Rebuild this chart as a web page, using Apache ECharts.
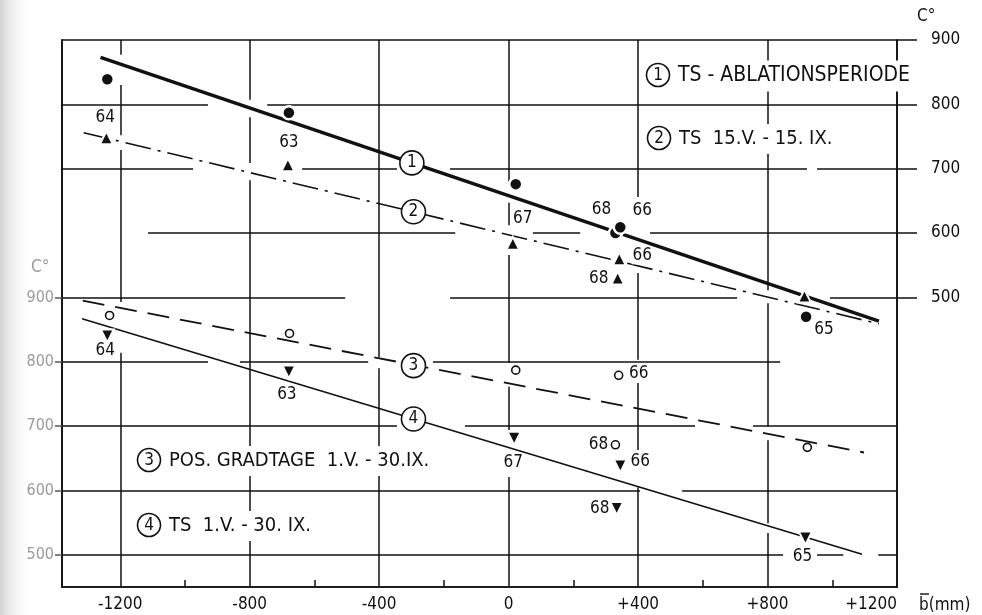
<!DOCTYPE html>
<html><head><meta charset="utf-8">
<script src="https://cdn.jsdelivr.net/npm/echarts@6/dist/echarts.min.js"></script>
<style>
html,body{margin:0;padding:0;}
body{background:linear-gradient(to right,#d4d4d4 0px,#e8e8e8 8px,#f6f6f6 18px,#fff 26px);}
#c{width:982px;height:615px;}
</style></head><body><div id="c"></div>
<script>
// ---- axis ticks ----
const xTicks = [-1200, -800, -400, 0, 400, 800, 1200];
const xMinorTicks = [-1000, -600, -200, 200, 600, 1000];
const yRightTicks = [500, 600, 700, 800, 900];
const yLeftTicks = [500, 600, 700, 800, 900];

// ---- data (x = b̄ in mm, y = C°) ----
const years = ['64', '63', '67', '68', '66', '65'];
// (1) TS - Ablationsperiode (right axis)
const s1X = [-1240, -679, 22, 330, 345, 919];
const s1Y = [839, 787, 676, 600, 609, 470];
// (2) TS 15.V. - 15.IX. (right axis)
const s2X = [-1243, -682, 13, 337, 342, 914];
const s2Y = [748, 706, 584, 530, 560, 502];
// (3) Pos. Gradtage 1.V. - 30.IX. (left axis)
const s3X = [-1233, -677, 22, 330, 340, 923];
const s3Y = [872, 844, 787, 671, 779, 667];
// (4) TS 1.V. - 30.IX. (left axis)
const s4X = [-1240, -679, 17, 334, 345, 917];
const s4Y = [840, 784, 681, 572, 638, 526];

// regression lines (start / end)
const line1 = [[-1261, 873], [1144, 463]];
const line2 = [[-1313, 756], [1144, 459]];
const line3 = [[-1316, 895], [1098, 659]];
const line4 = [[-1318, 867], [1092, 501]];
// circled number positions on lines
const mark1 = [-299, 709];
const mark2 = [-294, 633];
const mark3 = [-294, 794];
const mark4 = [-294, 711];

// drawn grid lines (in right-axis units): [y, xFrom, xTo] and [x, yFrom, yTo]
const hGrid = [
  [800, -1380, -929], [800, -746, 1200],
  [700, -1380, -975], [700, -638, -345], [700, -181, 922], [700, 953, 1200],
  [600, -1114, -165], [600, 75, 221], [600, 437, 1200],
  [500, -1380, -505], [500, -181, 706], [500, 993, 1200],
  [400, -1380, -929], [400, -830, -434], [400, -234, 839],
  [300, -1380, -345], [300, -135, 576], [300, 755, 1200],
  [200, -1380, 406], [200, 536, 1200],
  [100, -1380, 848], [100, 953, 1034], [100, 1142, 1200]
];
const vGrid = [
  [-1200, 877, 900], [-1200, 752, 830], [-1200, 493, 729], [-1200, 50, 414],
  [-800, 807, 900], [-800, 709, 780], [-800, 50, 682],
  [-400, 407, 900], [-400, 50, 390],
  [0, 680, 900], [0, 612, 647], [0, 398, 566], [0, 294, 361], [0, 50, 221],
  [400, 656, 900], [400, 403, 538], [400, 263, 367], [400, 50, 205],
  [800, 511, 900], [800, 299, 491], [800, 149, 278], [800, 50, 134]
];

const legendTexts = ['TS - ABLATIONSPERIODE', 'TS  15.V. - 15. IX.', 'POS. GRADTAGE  1.V. - 30.IX.', 'TS  1.V. - 30. IX.'];

// ---- styling ----
const FONT = "'DejaVu Sans Condensed','DejaVu Sans',sans-serif";
const INK = '#111';
const labelOffsets = {
  s1: [[-2, 38], [0, 30], [7, 34], [-14, -23], [22, -17], [18, 13]],
  s2: [null, null, null, [-19, 0], [23, -3], null],
  s3: [null, null, null, [-17, 0], [20, -2], null],
  s4: [[-2, 15], [-2, 23], [-1, 24], [-17, 0], [20, -4], [-3, 18]]
};

function pts(xs, ys, offs) {
  return xs.map((x, i) => {
    const o = offs[i];
    return {
      value: [x, ys[i]], name: years[i],
      label: o ? {show: true, position: 'inside', offset: o, formatter: '{b}',
        color: INK, fontSize: 17, fontFamily: FONT, backgroundColor: '#fff', padding: [0, 1]} : {show: false}
    };
  });
}

function markPt(coord, txt) {
  return {
    symbol: 'circle', symbolSize: 24, silent: true,
    itemStyle: {color: '#fff', borderColor: INK, borderWidth: 1.6, opacity: 1},
    label: {show: true, position: 'inside', formatter: txt, color: INK, fontSize: 17, fontFamily: FONT},
    data: [{coord: coord}]
  };
}

function legendItem(cx, cy, num, text, fs) {
  return [
    {type: 'text', x: cx + 17, y: cy + 1, z: 100, style: {text: text, align: 'left', verticalAlign: 'middle',
      fontSize: fs, fontFamily: FONT, fill: INK, backgroundColor: '#fff', padding: [5, 3, 5, 3]}},
    {type: 'circle', shape: {cx: cx, cy: cy, r: 11.5}, z: 101, style: {fill: '#fff', stroke: INK, lineWidth: 1.6}},
    {type: 'text', x: cx, y: cy + 1, z: 102, style: {text: num, align: 'center', verticalAlign: 'middle', fontSize: 17, fontFamily: FONT, fill: INK}}
  ];
}

const gridMarkData = []
  .concat(hGrid.map(([y, a, b]) => [{coord: [a, y]}, {coord: [b, y]}]))
  .concat(vGrid.map(([x, a, b]) => [{coord: [x, a]}, {coord: [x, b]}]));

const chart = echarts.init(document.getElementById('c'), null, {renderer: 'canvas'});
const option = {
  backgroundColor: 'transparent',
  animation: false,
  grid: {left: 62, right: 85, top: 40, bottom: 28, show: true, borderColor: INK, borderWidth: 1.6, backgroundColor: 'transparent'},
  xAxis: [
    {
      type: 'value', min: -1380, max: 1200, position: 'bottom',
      axisLine: {show: true, onZero: false, lineStyle: {color: INK, width: 1.6}},
      axisTick: {show: false, customValues: xTicks},
      axisLabel: {customValues: xTicks, margin: 9, color: INK, fontSize: 17, fontFamily: FONT, alignMaxLabel: 'right',
        formatter: v => v > 0 ? '+' + v : String(v)},
      splitLine: {show: false}
    },
    {
      type: 'value', min: -1380, max: 1200, position: 'bottom',
      axisLine: {show: false, onZero: false},
      axisTick: {show: true, inside: true, length: 7, customValues: xMinorTicks, lineStyle: {color: INK, width: 1.5}},
      axisLabel: {show: false},
      splitLine: {show: false}
    }
  ],
  yAxis: [
    { // left axis (series 3, 4)
      type: 'value', min: 450, max: 1300, position: 'left',
      axisLine: {show: true, onZero: false, lineStyle: {color: INK, width: 1.6}},
      axisTick: {show: true, length: 7, customValues: yLeftTicks, lineStyle: {color: '#555', width: 1.5}},
      axisLabel: {customValues: yLeftTicks, margin: 8, color: '#9a9a9a', fontSize: 16, fontFamily: FONT},
      splitLine: {show: false}
    },
    { // right axis (series 1, 2)
      type: 'value', min: 50, max: 900, position: 'right',
      axisLine: {show: true, onZero: false, lineStyle: {color: INK, width: 1.6}},
      axisTick: {show: true, length: 20, customValues: yRightTicks, lineStyle: {color: INK, width: 1.5}},
      axisLabel: {customValues: yRightTicks, margin: 34, color: INK, fontSize: 17, fontFamily: FONT},
      splitLine: {show: false}
    }
  ],
  graphic: [].concat(
    legendItem(658, 75, '1', legendTexts[0], 21),
    legendItem(659, 138, '2', legendTexts[1], 20),
    legendItem(149, 460, '3', legendTexts[2], 20),
    legendItem(149, 525, '4', legendTexts[3], 20),
    [
      {type: 'text', x: 31, y: 268, style: {text: 'C°', align: 'left', verticalAlign: 'middle', fontSize: 17, fontFamily: FONT, fill: '#9a9a9a'}},
      {type: 'text', x: 917, y: 17, style: {text: 'C°', align: 'left', verticalAlign: 'middle', fontSize: 17, fontFamily: FONT, fill: INK}},
      {type: 'text', x: 919, y: 606, style: {text: 'b(mm)', align: 'left', verticalAlign: 'middle', fontSize: 17, fontFamily: FONT, fill: INK}},
      {type: 'line', shape: {x1: 920, y1: 594, x2: 929, y2: 594}, style: {stroke: INK, lineWidth: 1.4}}
    ]
  ),
  series: [
    {type: 'line', xAxisIndex: 0, yAxisIndex: 1, data: [], silent: true, z: 1,
      markLine: {silent: true, symbol: ['none', 'none'], animation: false, label: {show: false},
        lineStyle: {color: INK, width: 1.5, type: 'solid'}, emphasis: {disabled: true}, data: gridMarkData}},
    {type: 'line', xAxisIndex: 0, yAxisIndex: 1, data: line1, showSymbol: false, silent: true,
      lineStyle: {color: INK, width: 3.4}, markPoint: markPt(mark1, '1'), z: 3},
    {type: 'line', xAxisIndex: 0, yAxisIndex: 1, data: line2, showSymbol: false, silent: true,
      lineStyle: {color: INK, width: 1.6, type: [26, 7, 3, 7]}, markPoint: markPt(mark2, '2'), z: 3},
    {type: 'line', xAxisIndex: 0, yAxisIndex: 0, data: line3, showSymbol: false, silent: true,
      lineStyle: {color: INK, width: 1.8, type: [22, 11]}, markPoint: markPt(mark3, '3'), z: 3},
    {type: 'line', xAxisIndex: 0, yAxisIndex: 0, data: line4, showSymbol: false, silent: true,
      lineStyle: {color: INK, width: 1.6}, markPoint: markPt(mark4, '4'), z: 3},
    {type: 'scatter', xAxisIndex: 0, yAxisIndex: 1, symbol: 'circle', symbolSize: 13,
      itemStyle: {color: INK, borderColor: '#fff', borderWidth: 2.5, opacity: 1}, data: pts(s1X, s1Y, labelOffsets.s1), z: 5},
    {type: 'scatter', xAxisIndex: 0, yAxisIndex: 1, symbol: 'triangle', symbolSize: 13,
      itemStyle: {color: INK, borderColor: '#fff', borderWidth: 2, opacity: 1}, data: pts(s2X, s2Y, labelOffsets.s2), z: 5},
    {type: 'scatter', xAxisIndex: 0, yAxisIndex: 0, symbol: 'circle', symbolSize: 8,
      itemStyle: {color: '#fff', borderColor: INK, borderWidth: 1.6, opacity: 1}, data: pts(s3X, s3Y, labelOffsets.s3), z: 5},
    {type: 'scatter', xAxisIndex: 0, yAxisIndex: 0, symbol: 'triangle', symbolRotate: 180, symbolSize: 13,
      itemStyle: {color: INK, borderColor: '#fff', borderWidth: 2, opacity: 1}, data: pts(s4X, s4Y, labelOffsets.s4), z: 5}
  ]
};
chart.setOption(option);
</script></body></html>
